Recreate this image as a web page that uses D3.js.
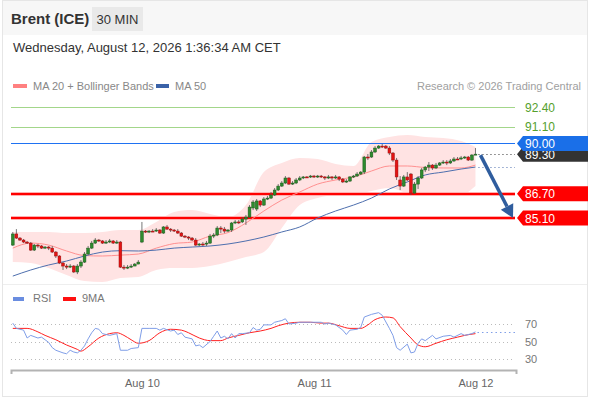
<!doctype html>
<html>
<head>
<meta charset="utf-8">
<title>Brent (ICE) 30 MIN</title>
<script src="https://cdn.jsdelivr.net/npm/d3@7"></script>
<style>
 body { margin: 0; background: #fff; }
 text { font-family: "Liberation Sans", Arial, sans-serif; }
</style>
</head>
<body>
<script>
 // ---- data ----
 var open = [83.32,84.05,83.78,83.65,83.52,83.45,82.99,83.32,83.26,83.12,
	     83.19,83.12,82.86,82.60,82.14,81.94,81.87,81.94,81.55,81.94,
	     82.20,82.73,83.12,83.45,83.65,83.59,83.45,83.52,83.59,83.45,
	     83.52,81.87,81.81,81.87,81.94,82.07,83.52,84.24,84.18,84.24,
	     84.24,84.31,84.11,84.51,84.37,84.31,84.24,84.11,83.91,83.85,
	     83.78,83.65,83.32,83.39,83.39,83.45,83.91,83.98,84.44,84.37,
	     84.24,84.31,84.77,84.84,84.84,85.03,85.16,85.76,85.69,86.22,
	     85.95,86.35,86.41,86.61,86.94,87.20,87.40,87.73,87.33,87.40,
	     87.60,87.73,87.80,87.80,87.86,87.80,87.86,87.80,87.73,87.80,
	     87.73,87.80,87.66,87.47,87.53,87.80,87.86,87.99,88.12,89.11,
	     89.11,89.44,89.70,89.83,89.83,89.70,89.37,88.91,87.60,87.20,
	     87.80,87.99,86.74,87.33,87.73,88.26,88.45,88.58,88.39,88.58,
	     88.72,88.78,88.72,88.85,88.98,88.98,89.05,89.11,88.91,89.24];
 var high = [84.18,84.37,83.85,83.72,83.59,83.52,83.39,83.39,83.32,83.26,
	     83.26,83.26,82.93,82.66,82.20,82.07,82.07,82.01,82.07,82.33,
	     82.86,83.26,83.59,83.78,83.72,83.65,83.65,83.72,83.65,83.65,
	     83.59,82.01,82.01,82.07,82.14,82.33,84.84,84.31,84.31,84.37,
	     84.44,84.37,84.57,84.64,84.44,84.37,84.37,84.18,83.98,83.91,
	     83.85,83.78,83.45,83.52,83.59,84.05,84.11,84.57,84.57,84.51,
	     84.37,84.84,84.97,84.97,85.16,85.30,85.95,86.28,86.35,86.28,
	     86.48,86.55,86.81,87.07,87.33,87.53,87.86,87.80,87.53,87.73,
	     87.86,87.86,87.86,87.93,87.93,87.93,87.93,87.86,87.93,87.86,
	     87.93,87.86,87.73,87.66,87.86,87.93,88.12,88.19,89.18,89.31,
	     89.57,89.83,89.90,89.97,89.90,89.83,89.44,89.05,87.86,87.93,
	     88.12,88.06,87.47,87.86,88.39,88.52,88.78,88.65,88.72,88.78,
	     88.91,88.91,88.98,89.11,89.11,89.18,89.18,89.18,89.31,89.70];
 var low = [83.26,83.72,83.59,83.45,83.39,82.93,82.93,83.12,83.06,83.06,
	    82.99,82.80,82.47,82.07,81.68,81.74,81.81,81.48,81.41,81.81,
	    82.14,82.66,83.06,83.39,83.52,83.39,83.39,83.45,83.39,83.39,
	    81.81,81.68,81.74,81.81,81.94,82.07,83.45,84.11,84.11,84.18,
	    84.18,84.05,84.05,84.31,84.18,84.18,84.05,83.85,83.78,83.65,
	    83.59,83.26,83.26,83.26,83.26,83.39,83.78,83.91,84.11,84.11,
	    84.18,84.18,84.70,84.70,84.77,84.64,85.10,85.62,85.56,85.82,
	    85.89,86.28,86.35,86.55,86.87,87.14,87.33,87.27,87.27,87.33,
	    87.53,87.66,87.73,87.73,87.73,87.73,87.73,87.60,87.66,87.60,
	    87.66,87.53,87.40,87.40,87.47,87.73,87.80,87.93,87.99,88.91,
	    89.05,89.37,89.64,89.70,89.64,89.24,88.78,87.60,86.94,87.14,
	    87.53,86.61,86.68,87.01,87.66,88.12,88.19,88.26,88.32,88.52,
	    88.65,88.58,88.65,88.78,88.91,88.91,88.98,88.85,88.85,89.24];
 var close = [84.05,83.78,83.65,83.52,83.45,82.99,83.32,83.26,83.12,83.19,
	      83.12,82.86,82.60,82.14,81.94,81.87,81.94,81.55,81.94,82.20,
	      82.73,83.12,83.45,83.65,83.59,83.45,83.52,83.59,83.45,83.52,
	      81.87,81.81,81.87,81.94,82.07,82.20,84.24,84.18,84.24,84.22,
	      84.31,84.11,84.51,84.37,84.31,84.24,84.11,83.91,83.85,83.78,
	      83.65,83.32,83.39,83.37,83.45,83.91,83.98,84.44,84.37,84.24,
	      84.31,84.77,84.84,84.82,85.03,85.16,85.82,86.15,86.22,85.95,
	      86.35,86.41,86.61,86.94,87.20,87.40,87.73,87.33,87.40,87.60,
	      87.73,87.80,87.78,87.86,87.80,87.86,87.80,87.73,87.80,87.73,
	      87.80,87.66,87.47,87.53,87.80,87.86,87.99,88.12,89.11,89.08,
	      89.44,89.70,89.83,89.80,89.70,89.37,88.91,87.80,87.20,87.80,
	      87.60,86.74,87.33,87.73,88.26,88.45,88.58,88.39,88.58,88.72,
	      88.78,88.72,88.85,88.98,88.96,89.05,89.11,88.91,89.24,89.30];

 // indicators, sampled every 5 candles
 var bandIdx = [0,5,10,15,20,25,30,35,40,45,50,55,60,65,70,75,80,85,90,95,100,105,110,115,120,125,129];
 var ma20  = [83.12,83.45,83.32,82.93,82.63,82.60,82.66,82.73,83.12,83.42,83.52,83.91,84.14,84.77,85.56,86.28,86.81,87.33,87.60,87.80,88.19,88.52,88.52,88.42,88.39,88.39,88.58];
 var bbUp  = [84.18,84.18,84.18,84.11,84.11,84.18,84.31,84.31,84.84,85.49,85.62,85.36,85.16,85.95,88.12,88.72,89.05,88.98,88.65,88.52,90.10,90.43,90.56,90.43,90.36,90.16,89.77];
 var bbLow = [82.20,82.14,81.81,81.35,80.95,80.89,81.15,81.22,81.68,81.81,81.81,81.94,82.20,82.53,82.86,84.44,85.95,86.41,86.61,86.61,86.87,87.07,86.74,86.61,86.55,86.61,87.20];
 var ma50  = [81.28,81.68,82.01,82.27,82.60,82.86,82.95,82.93,82.99,83.12,83.19,83.26,83.39,83.59,83.85,84.18,84.51,85.10,85.56,85.95,86.41,87.01,87.47,87.93,88.12,88.32,88.45];

 var rsiIdx = [0,1,3,4,5,7,8,9,10,11,12,14,15,16,17,18,19,20,21,22,23,24,25,27,29,30,32,33,35,36,
	       38,40,41,42,44,45,46,47,48,50,51,52,53,55,56,57,58,59,60,61,62,63,64,66,67,68,69,70,72,73,
	       74,75,76,77,79,80,83,86,87,88,90,92,93,94,96,97,98,100,102,103,105,106,107,108,110,111,112,
	       113,114,115,117,118,120,122,123,125,126,128,129];
 var rsi = [71,65,63,54,57,54,55,52,49,43,40,37,36,40,38,37,40,45,53,60,65,64,59,57,59,40,40,42,43,65,
	    65,65,63,65,62,63,58,60,55,53,45,46,43,50,56,62,54,56,53,59,54,59,59,60,66,63,64,69,69,72,
	    73,74,76,70,71,72,72,72,70,71,69,63,58,63,64,66,78,81,83,80,65,57,43,40,47,37,38,
	    48,53,51,57,53,56,57,55,59,57,59,61];
 var maIdx = [0,4,7,9,12,15,18,19,21,24,27,29,31,33,35,38,41,44,47,49,52,55,58,60,63,66,69,72,74,77,
	      80,83,86,88,91,94,97,99,101,104,106,108,111,113,115,118,121,124,126,129];
 var rsiMa = [65,65,61,57,52,46,41,39,44,54,59,60,57,52,48,51,60,64,63,60,54,51,51,54,57,60,62,65,68,71,
	      72,72,71,71,68,65,65,69,75,78,77,67,54,46,44,48,52,55,57,59];

 var resistance = [92.40, 91.10];
 var pivot = [90.00];
 var support = [86.70, 85.10];
 var lastPrice = 89.30;
 var rsiTicks = [30, 50, 70];
 var tickIdx = [36, 84, 129];
 var tickLabels = ["Aug 10", "Aug 11", "Aug 12"];

 // ---- drawing ----
 var w = 590, h = 400;
 var svg = d3.select("body").append("svg").attr("width", w).attr("height", h);

 var x = d3.scaleLinear().domain([-0.5, 140.3]).range([11, 516]);
 var y = d3.scaleLinear().domain([85.10, 92.40]).range([218, 107]);
 var yr = d3.scaleLinear().domain([30, 70]).range([359, 324]);
 var fmt = d3.format(".2f");
 // crisp 1px horizontal lines
 var snap = function(v){ return Math.round(v) + 0.5; };

 // frame + header
 svg.append("rect").attr("x", 0).attr("y", 0).attr("width", w).attr("height", h).attr("fill", "#fff");
 svg.append("rect").attr("x", 2).attr("y", 0).attr("width", 585).attr("height", 35).attr("fill", "#f7f7f7");
 svg.append("rect").attr("x", 2.5).attr("y", 0.5).attr("width", 585).attr("height", 396)
    .attr("fill", "none").attr("stroke", "#e6e6e6");
 svg.append("line").attr("x1", 3).attr("x2", 587).attr("y1", 284.5).attr("y2", 284.5)
    .attr("stroke", "#eeeeee");

 svg.append("text").attr("x", 11).attr("y", 24).attr("font-size", 15).attr("font-weight", "bold")
    .attr("fill", "#333").text("Brent (ICE)");
 svg.append("rect").attr("x", 92).attr("y", 7).attr("width", 51).attr("height", 24).attr("fill", "#e9e9e9");
 svg.append("text").attr("x", 117.5).attr("y", 24).attr("font-size", 13).attr("text-anchor", "middle")
    .attr("fill", "#333").text("30 MIN");
 svg.append("text").attr("x", 13).attr("y", 52).attr("font-size", 13).attr("fill", "#333")
    .text("Wednesday, August 12, 2026 1:36:34 AM CET");

 // legends
 svg.append("rect").attr("x", 13).attr("y", 84).attr("width", 14).attr("height", 4).attr("fill", "#ff8080");
 svg.append("text").attr("x", 33).attr("y", 90).attr("font-size", 11).attr("fill", "#888").text("MA 20 + Bollinger Bands");
 svg.append("rect").attr("x", 156).attr("y", 84).attr("width", 13).attr("height", 4).attr("fill", "#3a62a8");
 svg.append("text").attr("x", 175).attr("y", 90).attr("font-size", 11).attr("fill", "#888").text("MA 50");
 svg.append("text").attr("x", 581).attr("y", 90).attr("font-size", 11).attr("text-anchor", "end")
    .attr("fill", "#a0a0a0").text("Research \u00a9 2026 Trading Central");

 svg.append("rect").attr("x", 13).attr("y", 297).attr("width", 11).attr("height", 4).attr("fill", "#6a8de0");
 svg.append("text").attr("x", 33).attr("y", 302).attr("font-size", 11).attr("fill", "#777").text("RSI");
 svg.append("rect").attr("x", 63).attr("y", 297).attr("width", 13).attr("height", 4).attr("fill", "#ff1010");
 svg.append("text").attr("x", 82).attr("y", 302).attr("font-size", 11).attr("fill", "#777").text("9MA");

 // bollinger band + moving averages
 var band = bandIdx.map(function(d, k){
     return {i: d, up: bbUp[k], lo: bbLow[k], ma: ma20[k], ma50: ma50[k]};
 });
 svg.append("path").datum(band)
    .attr("fill", "#ffe3e3")
    .attr("d", d3.area().x(function(d){return x(d.i);})
		 .y0(function(d){return y(d.lo);})
		 .y1(function(d){return y(d.up);})
		 .curve(d3.curveMonotoneX));

 // level lines
 var x0 = 11, x1 = 515;
 resistance.forEach(function(v){
     svg.append("line").attr("x1", x0).attr("x2", x1).attr("y1", snap(y(v))).attr("y2", snap(y(v)))
	.attr("stroke", "#a3d68a").attr("stroke-width", 1);
 });
 pivot.forEach(function(v){
     svg.append("line").attr("x1", x0).attr("x2", x1).attr("y1", snap(y(v))).attr("y2", snap(y(v)))
	.attr("stroke", "#1f72f2").attr("stroke-width", 1.2);
 });
 support.forEach(function(v){
     var yy = Math.round(y(v));
     svg.append("line").attr("x1", x0).attr("x2", x1).attr("y1", yy).attr("y2", yy)
	.attr("stroke", "#ffb0b0").attr("stroke-width", 4);
     svg.append("line").attr("x1", x0).attr("x2", x1).attr("y1", yy).attr("y2", yy)
	.attr("stroke", "#ff0000").attr("stroke-width", 2);
 });

 var line = function(key){
     return d3.line().x(function(d){return x(d.i);}).y(function(d){return y(d[key]);})
		     .curve(d3.curveMonotoneX);
 };
 svg.append("path").datum(band).attr("fill", "none").attr("stroke", "#ff9090")
    .attr("stroke-width", 1).attr("d", line("ma"));
 svg.append("path").datum(band).attr("fill", "none").attr("stroke", "#4e6fae")
    .attr("stroke-width", 1).attr("d", line("ma50"));

 // candles
 var candles = close.map(function(c, i){
     return {i: i, o: open[i], h: high[i], l: low[i], c: c};
 });
 var bw = 2.8;
 var cg = svg.append("g");
 cg.selectAll("line").data(candles).enter().append("line")
   .attr("x1", function(d){return x(d.i);}).attr("x2", function(d){return x(d.i);})
   .attr("y1", function(d){return y(d.h);}).attr("y2", function(d){return y(d.l);})
   .attr("stroke", "#555").attr("stroke-width", 0.8);
 cg.selectAll("rect").data(candles).enter().append("rect")
   .attr("x", function(d){return x(d.i) - bw/2;})
   .attr("width", bw)
   .attr("y", function(d){return y(Math.max(d.o, d.c));})
   .attr("height", function(d){return Math.max(1, Math.abs(y(d.o) - y(d.c)));})
   .attr("fill", function(d){return d.c >= d.o ? "#2e8b2e" : "#e41414";})
   .attr("stroke", function(d){return d.c >= d.o ? "#1d5a1d" : "#9a1010";})
   .attr("stroke-width", 0.5);

 // dotted projections
 var last = close.length - 1;
 svg.append("line").attr("x1", x(last) + 3).attr("x2", x1)
    .attr("y1", snap(y(lastPrice))).attr("y2", snap(y(lastPrice)))
    .attr("stroke", "#333").attr("stroke-dasharray", "1,3");
 svg.append("line").attr("x1", x(last) + 3).attr("x2", x1)
    .attr("y1", snap(y(ma50[ma50.length-1]))).attr("y2", snap(y(ma50[ma50.length-1])))
    .attr("stroke", "#4e6fae").attr("stroke-dasharray", "1,3");

 // arrow towards 85.10
 var ax0 = x(last) + 5, ay0 = y(lastPrice) + 1, ax1 = 513, ay1 = y(support[1]);
 var dx = ax1 - ax0, dy = ay1 - ay0, len = Math.sqrt(dx*dx + dy*dy);
 var ux = dx/len, uy = dy/len, hl = 13, hw = 7;
 var bx = ax1 - ux*hl, by = ay1 - uy*hl;
 svg.append("line").attr("x1", ax0).attr("y1", ay0).attr("x2", bx).attr("y2", by)
    .attr("stroke", "#2f5d9e").attr("stroke-width", 3.5);
 svg.append("path")
    .attr("d", "M" + ax1 + "," + ay1 + "L" + (bx - uy*hw) + "," + (by + ux*hw) +
	  "L" + (bx + uy*hw) + "," + (by - ux*hw) + "Z")
    .attr("fill", "#2f5d9e");

 // price labels
 var tag = function(v, color){
     var yy = y(v);
     svg.append("path")
	.attr("d", "M517," + yy + "L523," + (yy-7.5) + "H588V" + (yy+7.5) + "H523Z")
	.attr("fill", color);
     svg.append("text").attr("x", 525).attr("y", yy + 4.5).attr("font-size", 12)
	.attr("fill", "#fff").text(fmt(v));
 };
 resistance.forEach(function(v){
     svg.append("text").attr("x", 525).attr("y", y(v) + 4.5).attr("font-size", 12)
	.attr("fill", "#55a02c").text(fmt(v));
 });
 tag(lastPrice, "#333333");
 tag(pivot[0], "#1a6fe8");
 support.forEach(function(v){ tag(v, "#ff0000"); });

 // RSI panel
 rsiTicks.forEach(function(v){
     svg.append("line").attr("x1", x0).attr("x2", x1).attr("y1", snap(yr(v))).attr("y2", snap(yr(v)))
	.attr("stroke", "#bbb").attr("stroke-dasharray", "1,3");
 });
 var ry = svg.append("g").attr("transform", "translate(525,0)")
	     .call(d3.axisRight(yr).tickValues(rsiTicks).tickSize(0).tickPadding(0));
 ry.select(".domain").remove();
 ry.selectAll("text").attr("font-size", 11).attr("fill", "#777").attr("font-family", null);

 var rsiData = rsiIdx.map(function(d, k){return {i: d, v: rsi[k]};});
 var maData = maIdx.map(function(d, k){return {i: d, v: rsiMa[k]};});
 var rline = d3.line().x(function(d){return x(d.i);}).y(function(d){return yr(d.v);});
 svg.append("path").datum(maData).attr("fill", "none").attr("stroke", "#ff2020")
    .attr("stroke-width", 1).attr("d", rline.curve(d3.curveMonotoneX));
 svg.append("path").datum(rsiData).attr("fill", "none").attr("stroke", "#7f9ee8")
    .attr("stroke-width", 1).attr("d", d3.line().x(function(d){return x(d.i);})
					   .y(function(d){return yr(d.v);}));
 svg.append("line").attr("x1", x(last) + 2).attr("x2", x1)
    .attr("y1", snap(yr(rsi[rsi.length-1]))).attr("y2", snap(yr(rsi[rsi.length-1])))
    .attr("stroke", "#7f9ee8").attr("stroke-dasharray", "1.5,3");

 // time axis
 var xa = svg.append("g").attr("transform", "translate(0,370)")
	     .call(d3.axisBottom(x).tickValues(tickIdx)
			.tickFormat(function(d, k){return tickLabels[k];})
			.tickSizeInner(0).tickSizeOuter(4).tickPadding(9));
 xa.select(".domain").attr("stroke", "#b3b3b3").attr("stroke-width", 2);
 xa.selectAll("text").attr("font-size", 11).attr("fill", "#666").attr("font-family", null);
</script>
</body>
</html>
